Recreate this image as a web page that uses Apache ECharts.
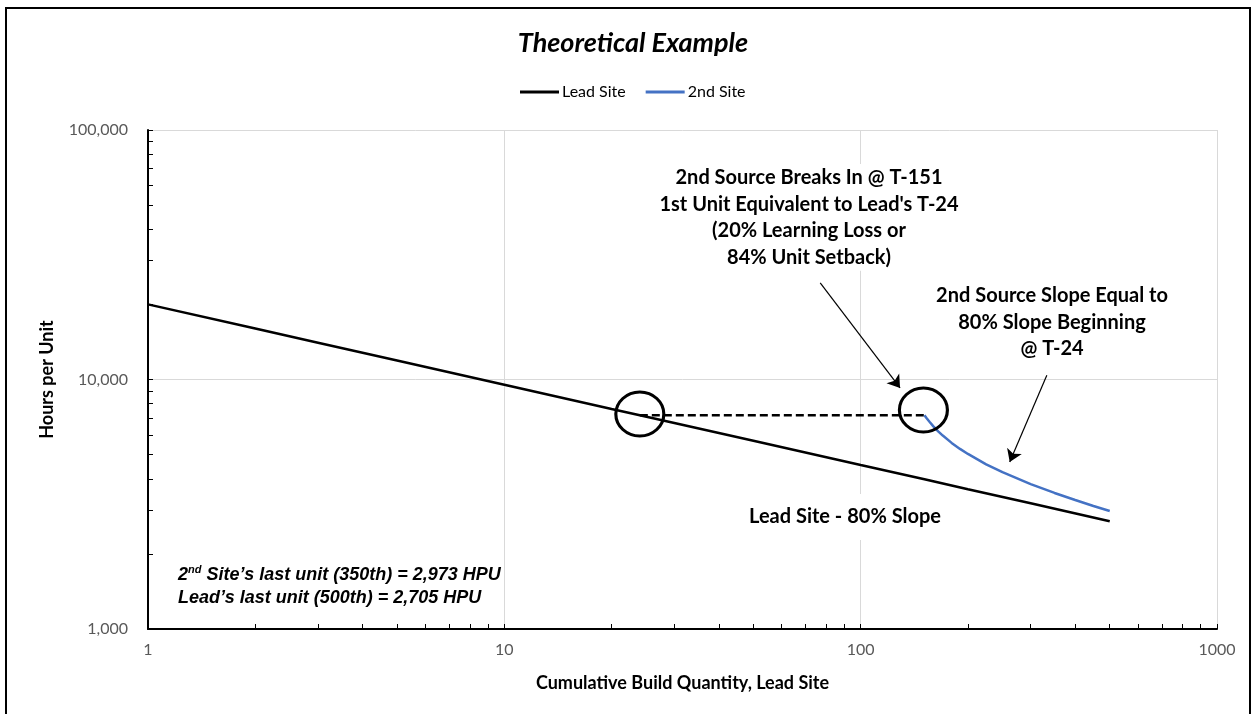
<!DOCTYPE html>
<html>
<head>
<meta charset="utf-8">
<script src="https://cdn.jsdelivr.net/npm/echarts@6/dist/echarts.min.js"></script>
<style>
html,body{margin:0;padding:0;background:#fff;}
#chart{width:1253px;height:714px;}
</style>
</head>
<body>
<div id="chart"></div>
<script>
// ---- data ----
const leadX = [1, 2, 3, 5, 10, 20, 24, 50, 100, 151, 200, 300, 500];
const leadY = [20000, 16000, 14040, 11910, 9530, 7620, 7190, 5680, 4540, 3980, 3630, 3190, 2705];

const secondX = [151, 153, 156, 160, 165, 170, 180, 190, 200, 225, 250, 300, 350, 400, 450, 500];
const secondY = [7190, 7010, 6770, 6490, 6200, 5960, 5570, 5270, 5030, 4570, 4250, 3810, 3510, 3290, 3110, 2973];

const setbackX = [24, 151];
const setbackY = [7190, 7190];

const circleX = [24, 150];
const circleY = [7270, 7550];

const arrowStart = [[77, 24400], [333, 10400]];
const arrowEnd = [[129, 9250], [262, 4670]];

const xTickValues = [1, 2, 3, 4, 5, 6, 7, 8, 9, 10, 20, 30, 40, 50, 60, 70, 80, 90,
  100, 200, 300, 400, 500, 600, 700, 800, 900, 1000];
const yTickValues = [1000, 2000, 3000, 4000, 5000, 6000, 7000, 8000, 9000,
  10000, 20000, 30000, 40000, 50000, 60000, 70000, 80000, 90000, 100000];

const seriesNames = ['Lead Site', '2nd Site'];
const titleText = 'Theoretical Example';
const xAxisName = 'Cumulative Build Quantity, Lead Site';
const yAxisName = 'Hours per Unit';
const note1 = "2nd Source Breaks In @ T-151\n1st Unit Equivalent to Lead's T-24\n(20% Learning Loss or\n84% Unit Setback)";
const note2 = "2nd Source Slope Equal to\n80% Slope Beginning\n@ T-24";
const note3 = "Lead Site - 80% Slope";
const note4 = "2{sup|nd} Site\u2019s last unit (350th) = 2,973 HPU\nLead\u2019s last unit (500th) = 2,705 HPU";

// ---- chart ----
const font = 'Lato, "Open Sans", sans-serif';
const noteFont = '"Liberation Sans", Arial, sans-serif';
const chart = echarts.init(document.getElementById('chart'));

const pairs = (xs, ys) => xs.map((x, i) => [x, ys[i]]);

const option = {
  animation: false,
  backgroundColor: '#fff',
  title: {
    text: titleText,
    left: 628,
    textAlign: 'center',
    top: 25,
    textStyle: { fontFamily: font, fontSize: 27, fontWeight: 'bold', fontStyle: 'italic', color: '#000' }
  },
  legend: {
    data: seriesNames,
    left: 515,
    top: 79,
    icon: 'rect',
    itemWidth: 39,
    itemHeight: 3,
    itemGap: 20,
    textStyle: { fontFamily: font, fontSize: 16, color: '#000', padding: [0, 0, 0, -2] }
  },
  grid: { left: 148, right: 36, top: 130, bottom: 85 },
  xAxis: [
    {
      type: 'log', logBase: 10, min: 1, max: 1000,
      name: xAxisName, nameLocation: 'middle', nameGap: 45,
      nameTextStyle: { fontFamily: font, fontSize: 18, fontWeight: 'bold', color: '#000' },
      axisLine: { show: true, lineStyle: { color: '#000', width: 2 } },
      axisTick: { show: false },
      axisLabel: { fontFamily: font, fontSize: 16, color: '#595959', margin: 13,
        formatter: v => String(Math.round(v)) },
      splitLine: { show: true, lineStyle: { color: '#d9d9d9', width: 1 } }
    },
    {
      type: 'log', logBase: 10, min: 1, max: 1000, position: 'bottom',
      axisLine: { show: false },
      axisLabel: { show: false },
      splitLine: { show: false },
      axisTick: { show: true, inside: true, length: 5, customValues: xTickValues,
        lineStyle: { color: '#000', width: 1 } }
    }
  ],
  yAxis: [
    {
      type: 'log', logBase: 10, min: 1000, max: 100000,
      name: yAxisName, nameLocation: 'middle', nameGap: 92, nameRotate: 90,
      nameTextStyle: { fontFamily: font, fontSize: 18, fontWeight: 'bold', color: '#000' },
      axisLine: { show: true, lineStyle: { color: '#000', width: 2 } },
      axisTick: { show: false },
      axisLabel: { fontFamily: font, fontSize: 16, color: '#595959', margin: 20,
        formatter: v => Math.round(v).toLocaleString('en-US') },
      splitLine: { show: true, lineStyle: { color: '#d9d9d9', width: 1 } }
    },
    {
      type: 'log', logBase: 10, min: 1000, max: 100000, position: 'left',
      axisLine: { show: false },
      axisLabel: { show: false },
      splitLine: { show: false },
      axisTick: { show: true, inside: true, length: 5, customValues: yTickValues,
        lineStyle: { color: '#000', width: 1 } }
    }
  ],
  series: [
    {
      name: seriesNames[0], type: 'line', xAxisIndex: 0, yAxisIndex: 0,
      data: pairs(leadX, leadY), symbol: 'none',
      lineStyle: { color: '#000', width: 2.5 }, itemStyle: { color: '#000' }, z: 3
    },
    {
      name: seriesNames[1], type: 'line', xAxisIndex: 0, yAxisIndex: 0,
      data: pairs(secondX, secondY), symbol: 'none',
      lineStyle: { color: '#4472C4', width: 2.5 }, itemStyle: { color: '#4472C4' }, z: 3
    },
    {
      name: 'setback', type: 'line', xAxisIndex: 0, yAxisIndex: 0,
      data: pairs(setbackX, setbackY), symbol: 'none',
      lineStyle: { color: '#000', width: 2.5, type: [8, 4] }, z: 2
    },
    {
      name: 'markers', type: 'scatter', xAxisIndex: 0, yAxisIndex: 0,
      data: pairs(circleX, circleY), symbol: 'circle', symbolSize: [48, 44],
      itemStyle: { color: 'none', borderColor: '#000', borderWidth: 3, opacity: 1 },
      silent: true, z: 4
    },
    {
      name: 'arrows', type: 'lines', coordinateSystem: 'cartesian2d', xAxisIndex: 0, yAxisIndex: 0,
      data: arrowStart.map((p, i) => ({ coords: [p, arrowEnd[i]] })),
      symbol: ['none', 'arrow'], symbolSize: 12,
      lineStyle: { color: '#000', width: 1.2, opacity: 1, curveness: 0 },
      silent: true, z: 5
    }
  ],
  graphic: [
    { type: 'rect', silent: true, z: 100,
      shape: { x: 6, y: 8, width: 1244, height: 730 },
      style: { fill: 'none', stroke: '#000', lineWidth: 2 } },
    { type: 'text', silent: true, z: 50, x: 809, y: 164,
      style: { text: note1, fontFamily: font, fontSize: 20, fontWeight: 'bold', lineHeight: 26.7,
        textAlign: 'center', textVerticalAlign: 'top', fill: '#000', backgroundColor: '#fff', padding: [0, 4] } },
    { type: 'text', silent: true, z: 50, x: 1052, y: 282,
      style: { text: note2, fontFamily: font, fontSize: 20, fontWeight: 'bold', lineHeight: 26.7,
        textAlign: 'center', textVerticalAlign: 'top', fill: '#000', backgroundColor: '#fff', padding: [0, 4] } },
    { type: 'text', silent: true, z: 50, x: 845, y: 517,
      style: { text: note3, fontFamily: font, fontSize: 20, fontWeight: 'bold', lineHeight: 26,
        textAlign: 'center', textVerticalAlign: 'middle', fill: '#000', backgroundColor: '#fff', padding: [10, 4] } },
    { type: 'text', silent: true, z: 50, x: 178, y: 552,
      style: { text: note4, fontFamily: noteFont, fontSize: 18,
        fontWeight: 'bold', fontStyle: 'italic', lineHeight: 23,
        textAlign: 'left', textVerticalAlign: 'top', fill: '#000', backgroundColor: '#fff', padding: [12, 2, 12, 0],
        rich: { sup: { fontFamily: noteFont, fontSize: 11, fontWeight: 'bold',
          fontStyle: 'italic', verticalAlign: 'top', lineHeight: 23, padding: [0, 0, 8, 0] } } } }
  ]
};
chart.setOption(option);
</script>
</body>
</html>
